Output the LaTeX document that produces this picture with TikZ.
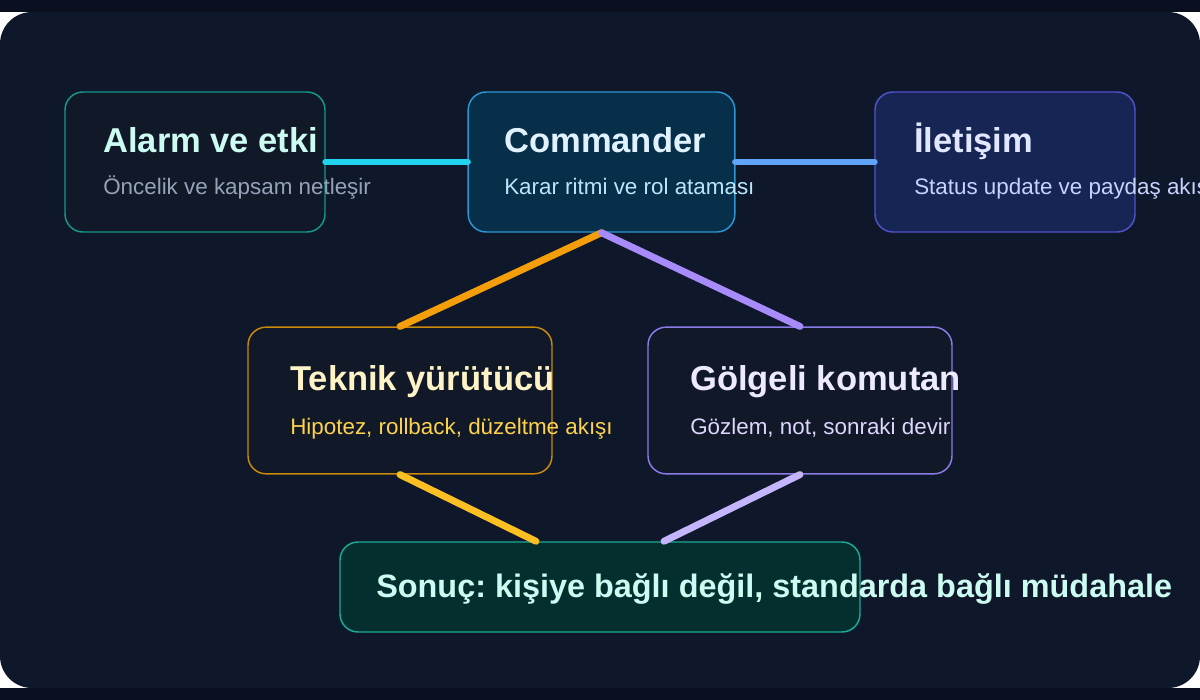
\documentclass[tikz,border=0pt]{standalone}
\usepackage{fontspec}
\setmainfont{Liberation Sans}
\usetikzlibrary{positioning}
\frenchspacing
\definecolor{pagebg}{HTML}{0F172A}
\definecolor{bandbg}{HTML}{0B1020}
\definecolor{cardbg}{HTML}{111827}
\definecolor{tealedge}{HTML}{14998A}
\definecolor{tealtxt}{HTML}{CCFBF1}
\definecolor{greytxt}{HTML}{94A3B8}
\definecolor{cmdfill}{HTML}{082F49}
\definecolor{cmdedge}{HTML}{2A96D2}
\definecolor{skytxt}{HTML}{E0F2FE}
\definecolor{skysub}{HTML}{BAE6FD}
\definecolor{comfill}{HTML}{172554}
\definecolor{comedge}{HTML}{5052CC}
\definecolor{indtxt}{HTML}{E0E7FF}
\definecolor{indsub}{HTML}{C7D2FE}
\definecolor{techedge}{HTML}{C98A0A}
\definecolor{ambtxt}{HTML}{FEF3C7}
\definecolor{ambsub}{HTML}{FCD34D}
\definecolor{shadedge}{HTML}{8B7BE8}
\definecolor{viotxt}{HTML}{EDE9FE}
\definecolor{viosub}{HTML}{DDD6FE}
\definecolor{resfill}{HTML}{042F2E}
\definecolor{resedge}{HTML}{1AAA96}
\definecolor{lcyan}{HTML}{22D3EE}
\definecolor{lblue}{HTML}{60A5FA}
\definecolor{lorange}{HTML}{F59E0B}
\definecolor{lviolet}{HTML}{A78BFA}
\definecolor{lyellow}{HTML}{FBBF24}
\definecolor{llav}{HTML}{C4B5FD}

\begin{document}
\begin{tikzpicture}[x=0.75pt, y=-0.75pt,
    box/.style={draw, rounded corners=13.5pt, line width=1.1pt, minimum width=195pt, minimum height=105pt, inner sep=0pt},
    ttl/.style={anchor=base west, inner sep=0pt, font=\fontsize{25.9}{30}\selectfont\bfseries},
    sub/.style={anchor=base west, inner sep=0pt, font=\fontsize{16.8}{20}\selectfont},
    lnk/.style={line width=5.2pt, line cap=round}]
    % page
    \useasboundingbox (0,0) rectangle (1200,700);
    \clip (0,0) rectangle (1200,700);
    \fill[white] (0,0) rectangle (1200,700);
    \fill[bandbg] (0,0) rectangle (1200,12);
    \fill[bandbg] (0,688) rectangle (1200,700);
    \fill[pagebg, rounded corners=24pt] (0,12) rectangle (1200,688);
    % cards
    \node[box, draw=tealedge, fill=cardbg] (alarm) at (195,162) {};
    \node[box, draw=cmdedge, fill=cmdfill, minimum width=200pt] (cmd) at (601.5,162) {};
    \node[box, draw=comedge, fill=comfill] (comm) at (1005,162) {};
    \node[box, draw=techedge, fill=cardbg, minimum width=228pt, minimum height=110pt] (tech) at (400,400.5) {};
    \node[box, draw=shadedge, fill=cardbg, minimum width=228pt, minimum height=110pt] (shadow) at (800,400.5) {};
    \node[box, draw=resedge, fill=resfill, minimum width=390pt, minimum height=67.5pt] (res) at (600,587) {};
    % links
    \draw[lnk, lcyan] (alarm.east) -- (cmd.west);
    \draw[lnk, lblue] (cmd.east) -- (comm.west);
    \draw[lnk, lorange] (cmd.south) -- (tech.north);
    \draw[lnk, lviolet] (cmd.south) -- (shadow.north);
    \draw[lnk, lyellow] (tech.south) -- ([xshift=-48pt]res.north);
    \draw[lnk, llav] (shadow.south) -- ([xshift=48pt]res.north);
    % texts
    \node[ttl, tealtxt] (alarmT) at (103,152) {Alarm ve etki};
    \node[sub, greytxt] (alarmS) at (103,194) {Öncelik ve kapsam netleşir};
    \node[ttl, skytxt] (cmdT) at (504,152) {Commander};
    \node[sub, skysub] (cmdS) at (504,194) {Karar ritmi ve rol ataması};
    \node[ttl, indtxt] (commT) at (914,152) {İletişim};
    \node[sub, indsub] (commS) at (914,194) {Status update ve paydaş akışı};
    \node[ttl, ambtxt] (techT) at (290,390) {Teknik yürütücü};
    \node[sub, ambsub] (techS) at (290,434) {Hipotez, rollback, düzeltme akışı};
    \node[ttl, viotxt] (shadowT) at (690,390) {Gölgeli komutan};
    \node[sub, viosub] (shadowS) at (690,434) {Gözlem, not, sonraki devir};
    \node[anchor=base west, inner sep=0pt, font=\fontsize{24.3}{28}\selectfont\bfseries, tealtxt] (resT) at (376,597) {Sonuç: kişiye bağlı değil, standarda bağlı müdahale};
\end{tikzpicture}
\end{document}
